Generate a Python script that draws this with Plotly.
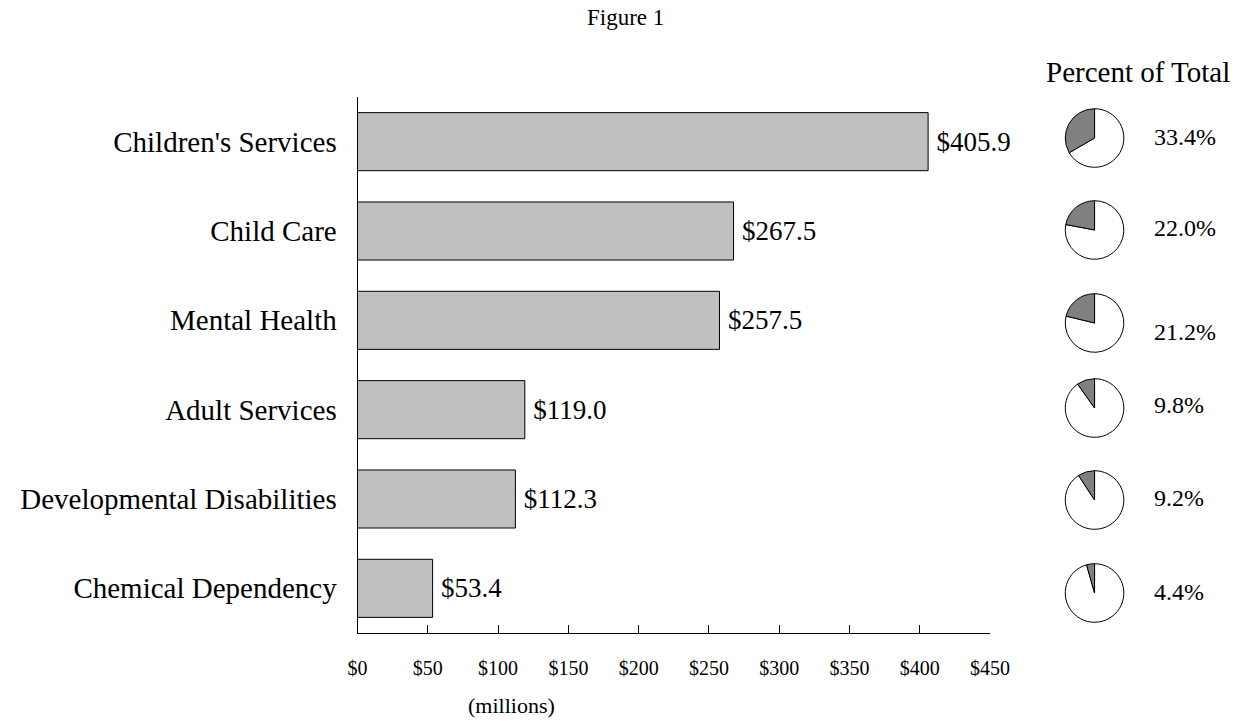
import plotly.graph_objects as go

categories = ["Children's Services", "Child Care", "Mental Health", "Adult Services",
              "Developmental Disabilities", "Chemical Dependency"]
amounts = [405.9, 267.5, 257.5, 119.0, 112.3, 53.4]
percents = [33.4, 22.0, 21.2, 9.8, 9.2, 4.4]
tick_values = [0, 50, 100, 150, 200, 250, 300, 350, 400, 450]
tick_labels = ["$0", "$50", "$100", "$150", "$200", "$250", "$300", "$350", "$400", "$450"]

W, H = 1260, 721
FONT = "Liberation Serif"

# layout geometry (screen pixels)
plot_left, plot_right, plot_top, plot_bottom = 356, 1004, 97, 633
pie_cx, pie_r = 1111, 30
pie_cy = [138, 230, 323, 408, 500, 593]
pct_y = [137, 228, 332, 405, 498, 592]
pct_x = 1170

def px(x):
    return x / W

def py(y):
    return 1 - y / H

fig = go.Figure()
fig.add_trace(go.Bar(
    x=amounts, y=categories, orientation="h",
    marker=dict(color="#c0c0c0", line=dict(color="black", width=1)),
    width=0.65,
    text=[f"\u2009${v:.1f}" for v in amounts], textposition="outside",
    textfont=dict(family=FONT, size=27, color="black"),
    cliponaxis=False, showlegend=False,
))

for i, p in enumerate(percents):
    fig.add_trace(go.Pie(
        values=[100 - p, p], sort=False, direction="clockwise", rotation=0,
        marker=dict(colors=["white", "#808080"], line=dict(color="black", width=1)),
        textinfo="none", showlegend=False, hoverinfo="label+percent",
        labels=["Rest", "Share"],
        domain=dict(x=[px(pie_cx - pie_r), px(pie_cx + pie_r)],
                    y=[py(pie_cy[i] + pie_r), py(pie_cy[i] - pie_r)]),
    ))
    fig.add_annotation(x=px(pct_x), y=py(pct_y[i]), xref="paper", yref="paper",
                       text=f"{p:.1f}%", showarrow=False, xanchor="left", yanchor="middle",
                       font=dict(family=FONT, size=24, color="black"))

fig.add_annotation(x=px(630), y=py(18), xref="paper", yref="paper", text="Figure 1",
                   showarrow=False, xanchor="center", yanchor="middle",
                   font=dict(family=FONT, size=23, color="black"))
fig.add_annotation(x=px(1156), y=py(72), xref="paper", yref="paper", text="Percent of Total",
                   showarrow=False, xanchor="center", yanchor="middle",
                   font=dict(family=FONT, size=29, color="black"))
fig.add_annotation(x=px(514), y=py(705), xref="paper", yref="paper", text="(millions)",
                   showarrow=False, xanchor="center", yanchor="middle",
                   font=dict(family=FONT, size=22, color="black"))

fig.update_layout(
    width=W, height=H, margin=dict(l=0, r=0, t=0, b=0),
    paper_bgcolor="white", plot_bgcolor="white",
    bargap=0.35,
    xaxis=dict(domain=[px(plot_left), px(plot_right)], range=[0, 450],
               tickvals=tick_values, ticktext=tick_labels,
               ticks="inside", ticklen=8, tickcolor="black", tickwidth=1,
               showline=True, linecolor="black", linewidth=1,
               showgrid=False, zeroline=False, ticklabelstandoff=17,
               tickfont=dict(family=FONT, size=20, color="black")),
    yaxis=dict(domain=[py(plot_bottom), py(plot_top)], categoryorder="array",
               categoryarray=categories, autorange="reversed",
               showline=True, linecolor="black", linewidth=1, ticks="",
               showgrid=False, zeroline=False, ticklabelstandoff=14,
               tickfont=dict(family=FONT, size=29, color="black")),
)

fig.write_html(
    "out.html",
    config={"displayModeBar": False},
    post_script="document.body.style.margin='0';document.body.style.overflow='hidden';",
)
